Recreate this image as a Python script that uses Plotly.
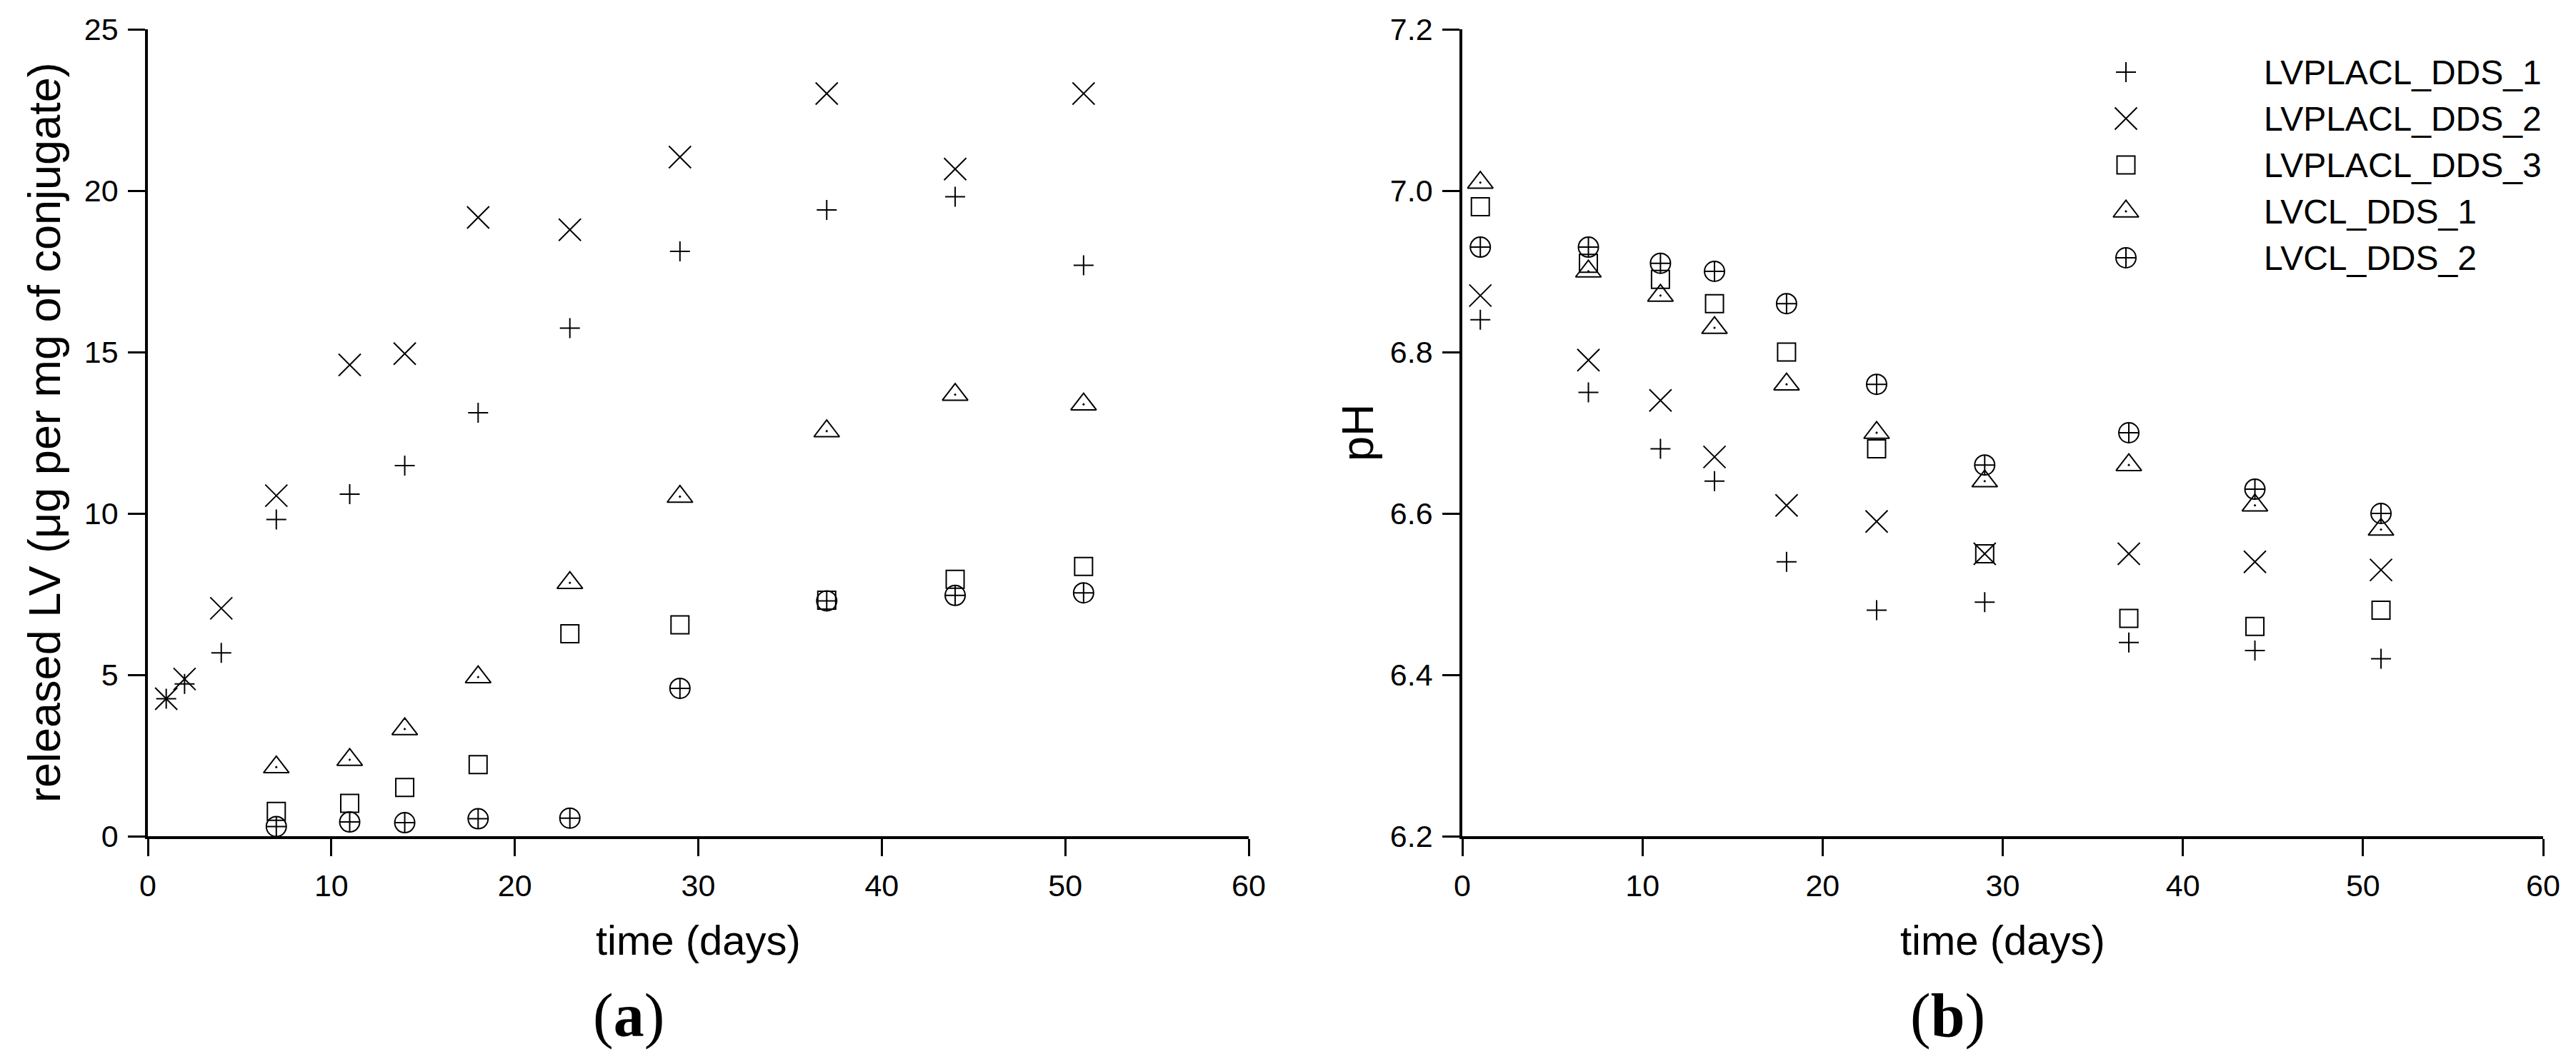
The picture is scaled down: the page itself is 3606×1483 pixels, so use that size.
import plotly.graph_objects as go

# ---------------- data ----------------
series_names = ["LVPLACL_DDS_1", "LVPLACL_DDS_2", "LVPLACL_DDS_3", "LVCL_DDS_1", "LVCL_DDS_2"]

# panel (a): released LV (ug per mg of conjugate)
days_a_long = [1, 2, 4, 7, 11, 14, 18, 23, 29, 37, 44, 51]
days_a_short = [7, 11, 14, 18, 23, 29, 37, 44, 51]
rel_lvplacl_1 = [4.26, 4.72, 5.68, 9.81, 10.60, 11.48, 13.12, 15.74, 18.12, 19.40, 19.81, 17.69]
rel_lvplacl_2 = [4.26, 4.87, 7.06, 10.55, 14.60, 14.95, 19.17, 18.79, 21.04, 23.01, 20.67, 23.01]
rel_lvplacl_3 = [0.77, 1.02, 1.51, 2.22, 6.27, 6.55, 7.31, 7.96, 8.36]
rel_lvcl_1 = [2.14, 2.37, 3.32, 4.93, 7.85, 10.52, 12.55, 13.68, 13.38]
rel_lvcl_2 = [0.30, 0.44, 0.42, 0.54, 0.56, 4.58, 7.29, 7.46, 7.54]

# panel (b): pH
days_b = [1, 7, 11, 14, 18, 23, 29, 37, 44, 51]
ph_lvplacl_1 = [6.84, 6.75, 6.68, 6.64, 6.54, 6.48, 6.49, 6.44, 6.43, 6.42]
ph_lvplacl_2 = [6.87, 6.79, 6.74, 6.67, 6.61, 6.59, 6.55, 6.55, 6.54, 6.53]
ph_lvplacl_3 = [6.98, 6.91, 6.89, 6.86, 6.80, 6.68, 6.55, 6.47, 6.46, 6.48]
ph_lvcl_1 = [7.01, 6.90, 6.87, 6.83, 6.76, 6.70, 6.64, 6.66, 6.61, 6.58]
ph_lvcl_2 = [6.93, 6.93, 6.91, 6.90, 6.86, 6.76, 6.66, 6.70, 6.63, 6.60]

x_ticks = [0, 10, 20, 30, 40, 50, 60]
y_ticks_a = [0, 5, 10, 15, 20, 25]
y_ticks_b = [6.2, 6.4, 6.6, 6.8, 7.0, 7.2]

# ---------------- styles ----------------
symbols = ["cross-thin-open", "x-thin-open", "square-open", "triangle-up-open-dot", "circle-cross-open"]
sizes = [20, 31, 25, 31, 28]
FONT = "Liberation Sans"

panel_a = [
    (days_a_long, rel_lvplacl_1),
    (days_a_long, rel_lvplacl_2),
    (days_a_short, rel_lvplacl_3),
    (days_a_short, rel_lvcl_1),
    (days_a_short, rel_lvcl_2),
]
panel_b = [ph_lvplacl_1, ph_lvplacl_2, ph_lvplacl_3, ph_lvcl_1, ph_lvcl_2]

fig = go.Figure()


def mk(i):
    return dict(symbol=symbols[i], size=sizes[i], color="black",
                line=dict(color="black", width=2))


for i, (xs, ys) in enumerate(panel_a):
    fig.add_trace(go.Scatter(x=xs, y=ys, mode="markers", marker=mk(i), name=series_names[i],
                             showlegend=False, cliponaxis=False, xaxis="x", yaxis="y"))

for i, ys in enumerate(panel_b):
    fig.add_trace(go.Scatter(x=days_b, y=ys, mode="markers", marker=mk(i), name=series_names[i],
                             showlegend=False, cliponaxis=False, xaxis="x2", yaxis="y2"))

# manual legend (symbol column on its own hidden axes)
legend_rows = list(range(len(series_names)))
for i in legend_rows:
    fig.add_trace(go.Scatter(x=[0], y=[i], mode="markers", marker=mk(i), showlegend=False,
                             cliponaxis=False, xaxis="x3", yaxis="y3", hoverinfo="skip"))

axis_common = dict(showline=True, linecolor="black", linewidth=3.5, ticks="outside",
                   ticklen=24, tickwidth=3, tickcolor="black", showgrid=False, zeroline=False,
                   automargin=False, ticklabelstandoff=5,
                   tickfont=dict(family=FONT, size=43, color="black"))

W, H = 3606, 1483
XA = [207 / W, 1748 / W]
XB = [2047 / W, 3560 / W]
YD = [(H - 1171) / H, (H - 41) / H]
ymid = sum(YD) / 2


def ann(text, x, y, size, family=FONT, angle=0, xanchor="center", yref="paper"):
    return dict(text=text, x=x, y=y, xref="paper", yref=yref, xanchor=xanchor,
                yanchor="middle", textangle=angle, showarrow=False,
                font=dict(family=family, size=size, color="black"))


annotations = [
    ann("released LV (μg per mg of conjugate)", 62 / W, ymid, 63, angle=-90),
    ann("pH", 1900 / W, ymid, 63, angle=-90),
    ann("time (days)", sum(XA) / 2, (H - 1316) / H, 58),
    ann("time (days)", sum(XB) / 2, (H - 1316) / H, 58),
    ann("(<b>a</b>)", 880 / W, (H - 1422) / H, 86, family="Liberation Serif"),
    ann("(<b>b</b>)", 2726 / W, (H - 1422) / H, 86, family="Liberation Serif"),
]
for i, name in enumerate(series_names):
    annotations.append(ann(name, 3167 / W, i, 48, xanchor="left", yref="y3"))

row_top = (H - 101) / H
row_bot = (H - 361) / H
half = (row_top - row_bot) / 4 / 2
sym_x = 2976 / W

fig.update_layout(
    width=W, height=H,
    margin=dict(l=0, r=0, t=0, b=0, autoexpand=False),
    paper_bgcolor="white", plot_bgcolor="white",
    showlegend=False,
    xaxis=dict(domain=XA, range=[0, 60], tickvals=x_ticks, anchor="y", **axis_common),
    yaxis=dict(domain=YD, range=[0, 25], tickvals=y_ticks_a, anchor="x", **axis_common),
    xaxis2=dict(domain=XB, range=[0, 60], tickvals=x_ticks, anchor="y2", **axis_common),
    yaxis2=dict(domain=YD, range=[6.2, 7.2], tickvals=y_ticks_b, tickformat=".1f", anchor="x2",
                **axis_common),
    xaxis3=dict(domain=[sym_x - 0.01, sym_x + 0.01], range=[-1, 1], visible=False, anchor="y3",
                fixedrange=True, automargin=False),
    yaxis3=dict(domain=[row_bot - half, row_top + half], range=[4.5, -0.5], visible=False,
                anchor="x3", fixedrange=True, automargin=False),
    annotations=annotations,
)

fig.write_html("out.html", config={"displayModeBar": False},
               post_script="document.body.style.margin='0px';document.body.style.padding='0px';")
